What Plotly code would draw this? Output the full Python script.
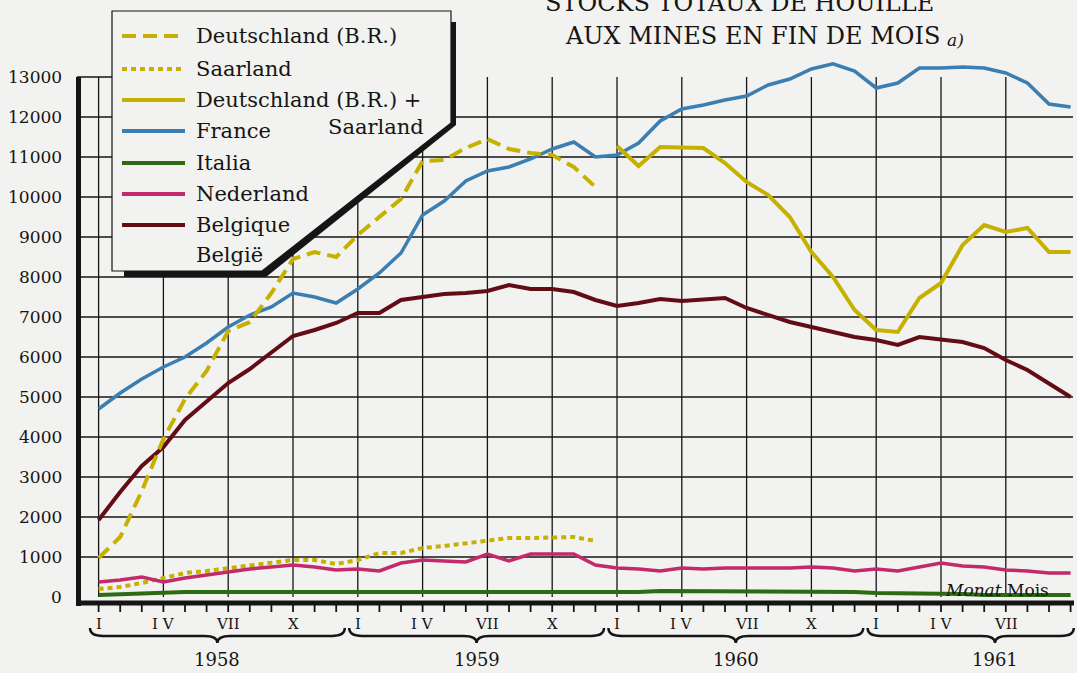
import plotly.graph_objects as go

# month index 0 = Jan 1958 ... 45 = Oct 1961
months = list(range(46))
years = ["1958", "1959", "1960", "1961"]
month_labels = {0: "I", 3: "I V", 6: "VII", 9: "X"}
y_ticks = list(range(0, 14000, 1000))

# stocks, 1000 t
deutschland = [975, 1500, 2650, 3950, 4950, 5650, 6650, 6875, 7600, 8450, 8625, 8500,
               9050, 9500, 9950, 10900, 10925, 11225, 11450, 11200, 11100, 11050, 10750, 10250]
saarland = [200, 250, 350, 475, 600, 650, 725, 800, 875, 925, 925, 825,
            925, 1100, 1100, 1225, 1275, 1350, 1425, 1475, 1475, 1500, 1500, 1400]
deutschland_saar = [11275, 10775, 11250, 11250, 11225, 10850, 10375, 10050, 9500, 8625, 8000, 7175,
                    6675, 6625, 7475, 7850, 8800, 9300, 9125, 9225, 8625, 8625]
france = [4700, 5100, 5450, 5750, 6000, 6350, 6750, 7050, 7250, 7600, 7500, 7350,
          7700, 8100, 8600, 9550, 9900, 10400, 10650, 10750, 10950, 11200, 11375, 11000,
          11050, 11350, 11900, 12200, 12300, 12425, 12525, 12800, 12950, 13200, 13330, 13150,
          12725, 12850, 13225, 13225, 13250, 13225, 13100, 12850, 12325, 12250]
italia = [50, 75, 100, 125, 125, 125, 125, 125, 125, 100, 100, 100,
          100, 100, 100, 100, 100, 100, 100, 125, 125, 125, 125, 125,
          125, 125, 150, 150, 150, 150, 150, 125, 125, 125, 125, 125,
          100, 100, 75, 75, 75, 50, 50, 50, 50, 50]
nederland = [375, 425, 500, 375, 475, 550, 625, 700, 750, 800, 750, 675,
             700, 650, 850, 925, 900, 875, 1075, 900, 1075, 1075, 1075, 800,
             725, 700, 650, 725, 700, 725, 725, 725, 725, 750, 725, 650,
             700, 650, 750, 850, 775, 750, 675, 650, 600, 600]
belgique = [1925, 2625, 3275, 3750, 4425, 4875, 5350, 5700, 6100, 6525, 6675, 6850,
            7100, 7100, 7425, 7500, 7575, 7600, 7650, 7800, 7700, 7700, 7625, 7425,
            7275, 7350, 7450, 7400, 7450, 7475, 7225, 7050, 6875, 6750, 6625, 6500,
            6425, 6300, 6500, 6425, 6375, 6225, 5925, 5675, 5350, 5000]

YELLOW = "#c6b000"
BLUE = "#3a7eb2"
GREEN = "#2e6a12"
MAGENTA = "#c32a6c"
MAROON = "#640c16"
BG = "#f2f2f0"
INK = "#151515"
FONT = "DejaVu Serif"

W, H = 1077, 673
X0_PX, MONTH_PX = 98.6, 21.6
Y0_PX, K_PX = 597.0, 40.0


# pixel -> data helpers for the decorations (plot area covers the whole page)
def xp(px):
    return (px - X0_PX) / MONTH_PX


def yp(py):
    return (Y0_PX - py) / K_PX * 1000


fig = go.Figure()

series = [
    (months[:24], saarland, YELLOW, "5px,4px", 4),
    (months, italia, GREEN, "solid", 4),
    (months, nederland, MAGENTA, "solid", 3.5),
    (months, belgique, MAROON, "solid", 4),
    (months, france, BLUE, "solid", 3.5),
    (months[:24], deutschland, YELLOW, "14px,7px", 4),
    (months[24:], deutschland_saar, YELLOW, "solid", 4),
]
for xs, ys, col, dash, w in series:
    fig.add_trace(go.Scatter(x=xs, y=ys, mode="lines", hoverinfo="skip",
                             line=dict(color=col, width=w, dash=dash)))

shapes = []
ann = []

# grid
for v in y_ticks[1:-1]:
    shapes.append(dict(type="line", layer="below", x0=xp(80), x1=xp(1073), y0=v, y1=v,
                       line=dict(color=INK, width=1.3)))
shapes.append(dict(type="line", layer="below", x0=xp(77), x1=xp(115), y0=13000, y1=13000,
                   line=dict(color=INK, width=1.3)))
for m in range(0, 43, 3):
    shapes.append(dict(type="line", layer="below", x0=m, x1=m, y0=0, y1=13000,
                       line=dict(color=INK, width=1.3)))

# axes
shapes.append(dict(type="line", layer="below", x0=xp(78.5), x1=xp(78.5), y0=yp(606), y1=13000,
                   line=dict(color=INK, width=5)))
shapes.append(dict(type="line", layer="below", x0=xp(76), x1=xp(1074), y0=yp(603), y1=yp(603),
                   line=dict(color=INK, width=5)))
for m in months:
    shapes.append(dict(type="line", layer="below", x0=m, x1=m, y0=yp(603), y1=yp(612),
                       line=dict(color=INK, width=1.8)))

for v in y_ticks:
    ann.append(dict(x=xp(64), y=v, text=str(v), xanchor="right", yanchor="middle",
                    font=dict(size=17, color=INK)))

# month labels, braces and years
y_top, y_mid, y_tip = yp(628), yp(636), yp(643)
d = 0.6
for i, yr in enumerate(years):
    s = 12 * i
    for k, lab in month_labels.items():
        if s + k > 42:
            continue
        ann.append(dict(x=s + k, y=yp(624), text=lab, xanchor="center", yanchor="middle",
                        font=dict(size=15, color=INK)))
    xl, xc = s - 0.4, s + 5.5
    xr = min(s + 11.4, 45.15)
    path = (f"M {xl},{y_top} Q {xl},{y_mid} {xl + d},{y_mid} L {xc - d},{y_mid} "
            f"Q {xc},{y_mid} {xc},{y_tip} Q {xc},{y_mid} {xc + d},{y_mid} "
            f"L {xr - d},{y_mid} Q {xr},{y_mid} {xr},{y_top}")
    shapes.append(dict(type="path", path=path, layer="below", line=dict(color=INK, width=2.4)))
    ann.append(dict(x=xc, y=yp(659), text=yr, xanchor="center", yanchor="middle",
                    font=dict(size=18, color=INK)))

ann.append(dict(x=xp(1004), y=yp(590), text="<i>Monat</i>", xanchor="right", yanchor="middle",
                font=dict(size=17, color=INK)))
ann.append(dict(x=xp(1005), y=yp(590), text="Mois", xanchor="left", yanchor="middle",
                font=dict(size=17, color=INK)))

# legend panel
def poly(pts):
    return "M " + " L ".join(f"{xp(a)},{yp(b)}" for a, b in pts) + " Z"


shapes.append(dict(type="path", layer="above", fillcolor=INK, line=dict(width=0),
                   path=poly([(449, 22), (456, 22), (456, 125), (266, 277), (124, 277),
                              (124, 270), (262, 270), (449, 122)])))
shapes.append(dict(type="path", layer="above", fillcolor=BG, line=dict(color=INK, width=1.2),
                   path=poly([(112, 11), (451, 11), (451, 123), (262, 271), (112, 271)])))

legend_rows = [
    (36, "Deutschland (B.R.)", YELLOW, "14px,7px"),
    (69, "Saarland", YELLOW, "5px,4px"),
    (100, "Deutschland (B.R.) +", YELLOW, "solid"),
    (131, "France", BLUE, "solid"),
    (163, "Italia", GREEN, "solid"),
    (194, "Nederland", MAGENTA, "solid"),
    (225, "Belgique", MAROON, "solid"),
]
for py, txt, col, dash in legend_rows:
    shapes.append(dict(type="line", layer="above", x0=xp(122), x1=xp(185), y0=yp(py), y1=yp(py),
                       line=dict(color=col, width=4, dash=dash)))
    ann.append(dict(x=xp(194), y=yp(py), text=txt, xanchor="left", yanchor="middle",
                    font=dict(size=21, color=INK)))
ann.append(dict(x=xp(426), y=yp(127), text="Saarland", xanchor="right", yanchor="middle",
                font=dict(size=21, color=INK)))
ann.append(dict(x=xp(194), y=yp(255), text="België", xanchor="left", yanchor="middle",
                font=dict(size=21, color=INK)))

# title (first line cut by the top edge, as in the scan)
ann.append(dict(x=xp(739), y=yp(3), text="STOCKS TOTAUX DE HOUILLE", xanchor="center",
                yanchor="middle", font=dict(size=24, color=INK)))
ann.append(dict(x=xp(942), y=yp(36), text="AUX MINES EN FIN DE MOIS", xanchor="right",
                yanchor="middle", font=dict(size=24, color=INK)))
ann.append(dict(x=xp(945), y=yp(40), text="<i>a)</i>", xanchor="left", yanchor="middle",
                font=dict(size=17, color=INK)))

for a in ann:
    a.update(showarrow=False, xref="x", yref="y")

fig.update_layout(
    width=W, height=H,
    margin=dict(l=0, r=0, t=0, b=0),
    paper_bgcolor=BG, plot_bgcolor=BG,
    font=dict(family=FONT, color=INK),
    showlegend=False,
    xaxis=dict(range=[xp(0), xp(W)], visible=False, fixedrange=True),
    yaxis=dict(range=[yp(H), yp(0)], visible=False, fixedrange=True),
    shapes=shapes, annotations=ann,
)

# the page body has a default 8px margin; drop it so the figure fills the window
fig.write_html("out.html", config={"displayModeBar": False},
               post_script="document.body.style.margin='0';document.body.style.background='%s';" % BG)
